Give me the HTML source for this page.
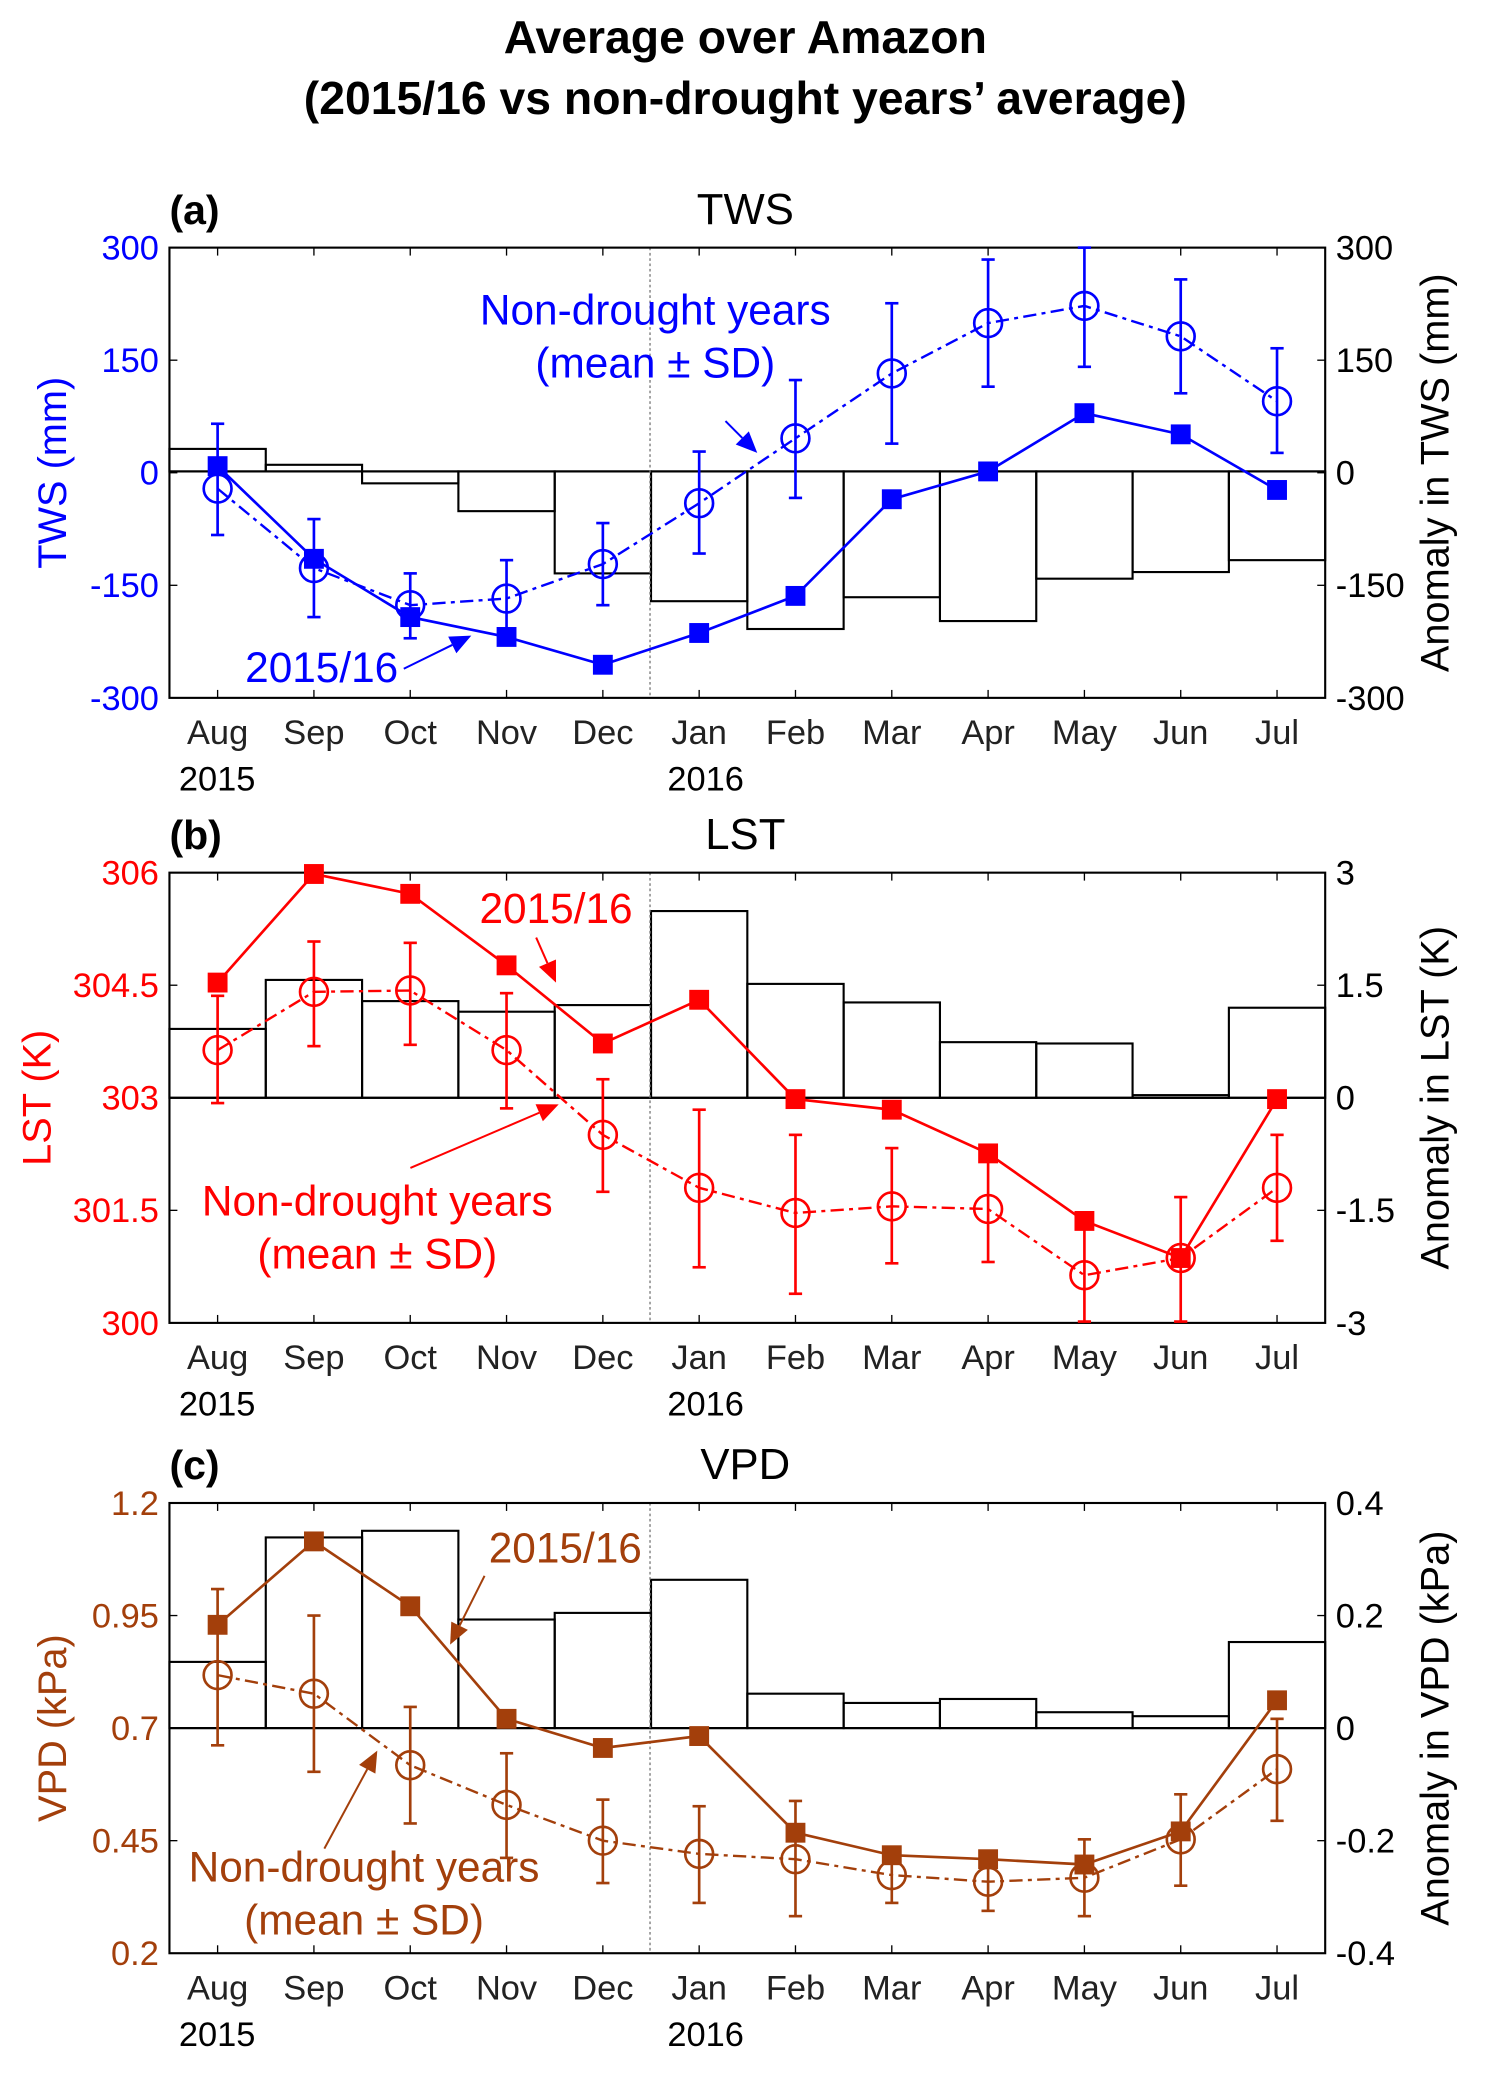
<!DOCTYPE html>
<html><head><meta charset="utf-8"><style>
html,body{margin:0;padding:0;background:#fff;}
svg{display:block;}
text{font-family:"Liberation Sans",Arial,sans-serif;}
</style></head><body>
<svg id="s" width="1492" height="2083" viewBox="0 0 1127 1573" preserveAspectRatio="none" xmlns="http://www.w3.org/2000/svg">
<text x="563" y="40" font-size="35" font-weight="bold" text-anchor="middle">Average over Amazon</text>
<text x="563" y="86" font-size="35" font-weight="bold" text-anchor="middle">(2015/16 vs non-drought years’ average)</text>
<g id="g"></g>
</svg>
<script>
var g=document.getElementById('g');var h='';
var L=128,R=1001,W=72.75;
function cx(i){return L+W*(i+0.5);}
var months=['Aug','Sep','Oct','Nov','Dec','Jan','Feb','Mar','Apr','May','Jun','Jul'];
function panel(p){
 var T=p.top,B=p.top+340,Z=p.zero,c=p.color;
 for(var i=0;i<12;i++){var y=p.bars[i];var x0=L+W*i;
  h+='<rect x="'+x0+'" y="'+Math.min(y,Z)+'" width="'+W+'" height="'+Math.abs(Z-y)+'" fill="none" stroke="#000" stroke-width="1.6"/>';}
 h+='<line x1="'+L+'" y1="'+Z+'" x2="'+R+'" y2="'+Z+'" stroke="#000" stroke-width="1.6"/>';
 h+='<line x1="491" y1="'+T+'" x2="491" y2="'+B+'" stroke="#777" stroke-width="1" stroke-dasharray="2,2"/>';
 h+='<rect x="'+L+'" y="'+T+'" width="'+(R-L)+'" height="340" fill="none" stroke="#000" stroke-width="1.6"/>';
 for(var i=0;i<12;i++){var x=cx(i);h+='<line x1="'+x+'" y1="'+T+'" x2="'+x+'" y2="'+(T+6)+'" stroke="#000"/><line x1="'+x+'" y1="'+B+'" x2="'+x+'" y2="'+(B-6)+'" stroke="#000"/>';
  h+='<text x="'+x+'" y="'+(B+35)+'" font-size="26" text-anchor="middle" fill="#222">'+months[i]+'</text>';}
 h+='<text x="164" y="'+(B+70)+'" font-size="26" text-anchor="middle">2015</text><text x="533" y="'+(B+70)+'" font-size="26" text-anchor="middle">2016</text>';
 for(var k=0;k<5;k++){var y=T+85*k;
  h+='<line x1="'+L+'" y1="'+y+'" x2="'+(L+6)+'" y2="'+y+'" stroke="#000"/><line x1="'+R+'" y1="'+y+'" x2="'+(R-6)+'" y2="'+y+'" stroke="#000"/>';
  h+='<text x="'+(L-8)+'" y="'+(y+9)+'" font-size="26" text-anchor="end" fill="'+c+'">'+p.lt[k]+'</text>';
  h+='<text x="'+(R+8)+'" y="'+(y+9)+'" font-size="26" fill="#000">'+p.rt[k]+'</text>';}
 var my=T+170;
 h+='<text transform="translate('+p.lx+','+my+') rotate(-90)" font-size="30" text-anchor="middle" fill="'+c+'">'+p.ll+'</text>';
 h+='<text transform="translate(1094,'+my+') rotate(-90)" font-size="30" text-anchor="middle" fill="#000">'+p.rl+'</text>';
 h+='<text x="128" y="'+(T-18)+'" font-size="31" font-weight="bold">'+p.tag+'</text>';
 h+='<text x="563" y="'+(T-18)+'" font-size="33" text-anchor="middle">'+p.name+'</text>';
 var pts=[];for(var i=0;i<12;i++)pts.push(cx(i)+','+p.nd[i][0]);
 h+='<polyline points="'+pts.join(' ')+'" fill="none" stroke="'+c+'" stroke-width="1.8" stroke-dasharray="10,4,3,4"/>';
 for(var i=0;i<12;i++){var x=cx(i),e=p.nd[i];
  h+='<line x1="'+x+'" y1="'+e[1]+'" x2="'+x+'" y2="'+e[2]+'" stroke="'+c+'" stroke-width="2"/>';
  h+='<line x1="'+(x-5)+'" y1="'+e[1]+'" x2="'+(x+5)+'" y2="'+e[1]+'" stroke="'+c+'" stroke-width="2"/><line x1="'+(x-5)+'" y1="'+e[2]+'" x2="'+(x+5)+'" y2="'+e[2]+'" stroke="'+c+'" stroke-width="2"/>';
  h+='<circle cx="'+x+'" cy="'+e[0]+'" r="10.5" fill="none" stroke="'+c+'" stroke-width="2"/>';}
 pts=[];for(var i=0;i<12;i++)pts.push(cx(i)+','+p.d[i]);
 h+='<polyline points="'+pts.join(' ')+'" fill="none" stroke="'+c+'" stroke-width="2"/>';
 for(var i=0;i<12;i++){h+='<rect x="'+(cx(i)-7.5)+'" y="'+(p.d[i]-7.5)+'" width="15" height="15" fill="'+c+'"/>';}
 var a=p.ann;
 h+='<text x="'+a.t1[0]+'" y="'+a.t1[1]+'" font-size="32" text-anchor="middle" fill="'+c+'">Non-drought years</text>';
 h+='<text x="'+a.t1[0]+'" y="'+(a.t1[1]+40)+'" font-size="32" text-anchor="middle" fill="'+c+'">(mean ± SD)</text>';
 h+='<text x="'+a.t2[0]+'" y="'+a.t2[1]+'" font-size="32" text-anchor="middle" fill="'+c+'">2015/16</text>';
 arrow(a.a1,c);arrow(a.a2,c);
}
function arrow(a,c){var x1=a[0],y1=a[1],x2=a[2],y2=a[3];var dx=x2-x1,dy=y2-y1,l=Math.sqrt(dx*dx+dy*dy);var ux=dx/l,uy=dy/l;
 var bx=x2-ux*16,by=y2-uy*16;
 h+='<line x1="'+x1+'" y1="'+y1+'" x2="'+bx+'" y2="'+by+'" stroke="'+c+'" stroke-width="1.5"/>';
 h+='<polygon points="'+x2+','+y2+' '+(bx-uy*7)+','+(by+ux*7)+' '+(bx+uy*7)+','+(by-ux*7)+'" fill="'+c+'"/>';}
panel({top:187,zero:356,color:'#0000ff',tag:'(a)',name:'TWS',lx:50,ll:'TWS (mm)',rl:'Anomaly in TWS (mm)',
 lt:['300','150','0','-150','-300'],rt:['300','150','0','-150','-300'],
 bars:[339,351,365,386,433,454,475,451,469,437,432,423],
 d:[352,422,466,481,502,478,450,377,356,312,328,370],
 nd:[[369,320,404],[429,392,466],[457,433,482],[452,423,481],[426,395,457],[380,341,418],[331,287,376],[282,229,335],[244,196,292],[231,187,277],[254,211,297],[303,263,342]],
 ann:{t1:[495,245],t2:[243,515],a1:[548,318,572,342],a2:[305,505,356,480]}});
panel({top:659,zero:829,color:'#ff0000',tag:'(b)',name:'LST',lx:38,ll:'LST (K)',rl:'Anomaly in LST (K)',
 lt:['306','304.5','303','301.5','300'],rt:['3','1.5','0','-1.5','-3'],
 bars:[777,740,756,764,759,688,743,757,787,788,827,761],
 d:[742,660,675,729,788,755,830,838,871,922,950,830],
 nd:[[793,752,833],[749,711,790],[748,712,789],[793,750,837],[857,815,900],[897,838,957],[916,857,977],[911,867,954],[913,870,953],[963,927,998],[950,904,998],[897,857,937]],
 ann:{t1:[285,918],t2:[420,697],a1:[405,708,420,742],a2:[310,882,422,834]}});
panel({top:1135,zero:1305,color:'#a33f0b',tag:'(c)',name:'VPD',lx:50,ll:'VPD (kPa)',rl:'Anomaly in VPD (kPa)',
 lt:['1.2','0.95','0.7','0.45','0.2'],rt:['0.4','0.2','0','-0.2','-0.4'],
 bars:[1255,1161,1156,1223,1218,1193,1279,1286,1283,1293,1296,1240],
 d:[1227,1164,1213,1298,1320,1311,1384,1401,1404,1408,1383,1284],
 nd:[[1265,1200,1318],[1279,1220,1338],[1333,1289,1377],[1363,1324,1403],[1390,1359,1422],[1400,1364,1437],[1404,1360,1447],[1416,1395,1437],[1421,1400,1443],[1418,1389,1447],[1389,1355,1424],[1336,1298,1375]],
 ann:{t1:[275,1421],t2:[427,1180],a1:[245,1396,285,1322],a2:[366,1190,340,1242]}});
g.innerHTML=h;
</script>
</body></html>
